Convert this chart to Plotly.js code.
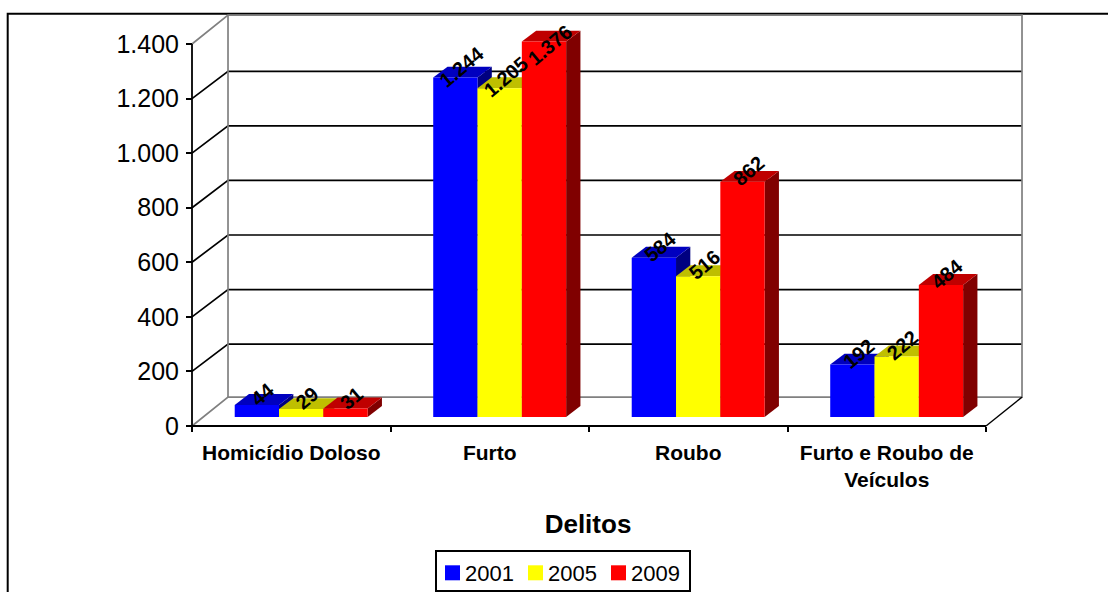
<!DOCTYPE html>
<html>
<head>
<meta charset="utf-8">
<script src="https://cdn.plot.ly/plotly-3.0.1.min.js"></script>
<style>html,body{margin:0;padding:0;background:#fff}#chart{width:1108px;height:592px}</style>
</head>
<body>
<div id="chart"></div>
<script>
// Registered offences per category, three survey years
const categories = ['Homicídio Doloso', 'Furto', 'Roubo', 'Furto e Roubo de<br>Veículos'];
const years = ['2001', '2005', '2009'];
const values2001 = [44, 1244, 584, 192];
const values2005 = [29, 1205, 516, 222];
const values2009 = [31, 1376, 862, 484];
const yTicks = [0, 200, 400, 600, 800, 1000, 1200, 1400];
const yTickLabels = ['0', '200', '400', '600', '800', '1.000', '1.200', '1.400'];

const frontColors = ['#0000FF', '#FFFF00', '#FF0000'];
const topColors = ['#0000BF', '#BFBF00', '#BF0000'];
const sideColors = ['#000080', '#808000', '#800000'];

// Oblique projection constants, in axis units
const WALL_DX = 0.1814, WALL_DY = 106, GRID_DY = 100;
const BAR_DX = 0.072, BAR_DY = 40, BAR_LIFT = 33;
const BAR_WIDTH = 0.2232, GROUP_SHIFT = 0.05;
const LABEL_CEILING = 1356;
const series = [values2001, values2005, values2009];
const X0 = -0.5, X1 = 3.5;
const FONT = 'Liberation Sans, Arial, sans-serif';

// Plot area placement in pixels
const M = {l: 150, r: 82, t: 12, b: 162};
const PW = 1108 - M.l - M.r, PH = 592 - M.t - M.b;
const XMIN = X0 - 42 / 198.5, YMIN = -14.66, YMAX = 1517.3;

const poly = pts => 'M' + pts.map(p => p[0] + ',' + p[1]).join('L') + 'Z';
const line = pts => 'M' + pts.map(p => p[0] + ',' + p[1]).join('L');
const fmt = v => String(v).replace(/\B(?=(\d{3})+$)/g, '.');
const barOffset = s => GROUP_SHIFT + (s - 1.5) * BAR_WIDTH;

const shapes = [];
// Outer chart border, running off the right and bottom of the page
shapes.push({type: 'rect', xref: 'paper', yref: 'paper', layer: 'below',
  x0: (7.7 - M.l) / PW, x1: (1130 - M.l) / PW,
  y0: (592 - M.b - 610) / PH, y1: (592 - M.b - 13.7) / PH,
  line: {color: '#000', width: 2}, fillcolor: 'rgba(0,0,0,0)'});

// Back wall gridlines
yTicks.slice(1, -1).forEach(v => {
  shapes.push({type: 'path', layer: 'below', path: line([[X0, v], [X0 + WALL_DX, v + GRID_DY], [X1 + WALL_DX, v + GRID_DY]]),
    line: {color: '#000', width: 1.7}});
});
// Wall and floor outline
shapes.push({type: 'path', layer: 'below',
  path: line([[X0, 0], [X0 + WALL_DX, WALL_DY], [X1 + WALL_DX, WALL_DY], [X1 + WALL_DX, 1400 + WALL_DY], [X0 + WALL_DX, 1400 + WALL_DY], [X0, 1400]]),
  line: {color: '#808080', width: 1.7}});
shapes.push({type: 'path', layer: 'below', path: line([[X0 + WALL_DX, WALL_DY], [X0 + WALL_DX, 1400 + WALL_DY]]),
  line: {color: '#808080', width: 1.7}});
shapes.push({type: 'path', layer: 'below', path: line([[X1, 0], [X1 + WALL_DX, WALL_DY]]),
  line: {color: '#000', width: 1.4}});
// Axis lines stop at the last tick
shapes.push({type: 'path', layer: 'below', path: line([[X0, 0], [X0, 1400]]), line: {color: '#000', width: 1.8}});
shapes.push({type: 'path', layer: 'below', path: line([[X0, 0], [X1, 0]]), line: {color: '#000', width: 1.8}});

// Top and side faces of each bar, left to right so neighbours overlap correctly
categories.forEach((c, i) => {
  series.forEach((vals, s) => {
    const xl = i + barOffset(s), xr = xl + BAR_WIDTH;
    const top = BAR_LIFT + vals[i];
    shapes.push({type: 'path', layer: 'below', fillcolor: sideColors[s], line: {width: 0},
      path: poly([[xr, BAR_LIFT], [xr + BAR_DX, BAR_LIFT + BAR_DY], [xr + BAR_DX, top + BAR_DY], [xr, top]])});
    shapes.push({type: 'path', layer: 'below', fillcolor: topColors[s], line: {width: 0},
      path: poly([[xl, top], [xl + BAR_DX, top + BAR_DY], [xr + BAR_DX, top + BAR_DY], [xr, top]])});
  });
});

const traces = series.map((vals, s) => ({
  type: 'bar',
  name: years[s],
  x: categories,
  y: vals,
  base: BAR_LIFT,
  width: BAR_WIDTH,
  offset: barOffset(s),
  marker: {color: frontColors[s], line: {width: 0}},
  hoverinfo: 'x+y'
}));

// Value labels sit above the top face of each bar, held below the top of the frame
const annotations = [];
categories.forEach((c, i) => {
  series.forEach((vals, s) => {
    annotations.push({
      x: i + barOffset(s) + BAR_WIDTH / 2, y: Math.min(BAR_LIFT + vals[i], LABEL_CEILING),
      text: fmt(vals[i]), showarrow: false, textangle: -40,
      xanchor: 'center', yanchor: 'middle', xshift: 6, yshift: 11,
      font: {family: FONT, size: 20, color: '#000', weight: 'bold'}
    });
  });
});

const layout = {
  width: 1108, height: 592,
  margin: {l: M.l, r: M.r, t: M.t, b: M.b, autoexpand: false},
  paper_bgcolor: '#fff', plot_bgcolor: 'rgba(0,0,0,0)',
  barmode: 'overlay',
  showlegend: true,
  font: {family: FONT, color: '#000'},
  xaxis: {
    type: 'category', categoryorder: 'array', categoryarray: categories,
    range: [XMIN, 3.7015], tickson: 'boundaries',
    anchor: 'free', position: -YMIN / (YMAX - YMIN),
    ticks: 'outside', ticklen: 5, tickwidth: 1.5, tickcolor: '#000', ticklabelstandoff: 12,
    showgrid: false, zeroline: false, showline: false,
    tickfont: {family: FONT, size: 21, weight: 'bold', color: '#000'},
    title: {text: 'Delitos', standoff: 24, font: {family: FONT, size: 26, weight: 'bold', color: '#000'}}
  },
  yaxis: {
    range: [YMIN, YMAX],
    anchor: 'free', position: (X0 - XMIN) / (3.7015 - XMIN),
    tickmode: 'array', tickvals: yTicks, ticktext: yTickLabels,
    ticks: 'outside', ticklen: 6, tickwidth: 1.5, tickcolor: '#000', ticklabelstandoff: 2,
    showgrid: false, zeroline: false, showline: false,
    tickfont: {family: FONT, size: 25, color: '#000'}
  },
  legend: {
    orientation: 'h', xref: 'container', yref: 'container',
    x: 435 / 1108, y: 1 - 550 / 592, xanchor: 'left', yanchor: 'top',
    entrywidth: 38, entrywidthmode: 'pixels',
    bordercolor: '#000', borderwidth: 2, bgcolor: '#fff',
    font: {family: FONT, size: 22, color: '#000'}
  },
  shapes, annotations
};

Plotly.newPlot('chart', traces, layout, {displayModeBar: false, responsive: false}).then(gd => {
  // Tighter legend: larger swatches set closer to their labels, shorter box
  gd.querySelectorAll('.legend .legendpoints path').forEach(p => {
    p.setAttribute('transform', 'translate(15.5,0) scale(1.25)');
  });
  gd.querySelectorAll('.legend text.legendtext').forEach(t => {
    t.setAttribute('x', +t.getAttribute('x') - 12);
  });
  const bg = gd.querySelector('.legend rect.bg');
  if (bg) { bg.setAttribute('height', 40); bg.setAttribute('width', 254); }
});
</script>
</body>
</html>
